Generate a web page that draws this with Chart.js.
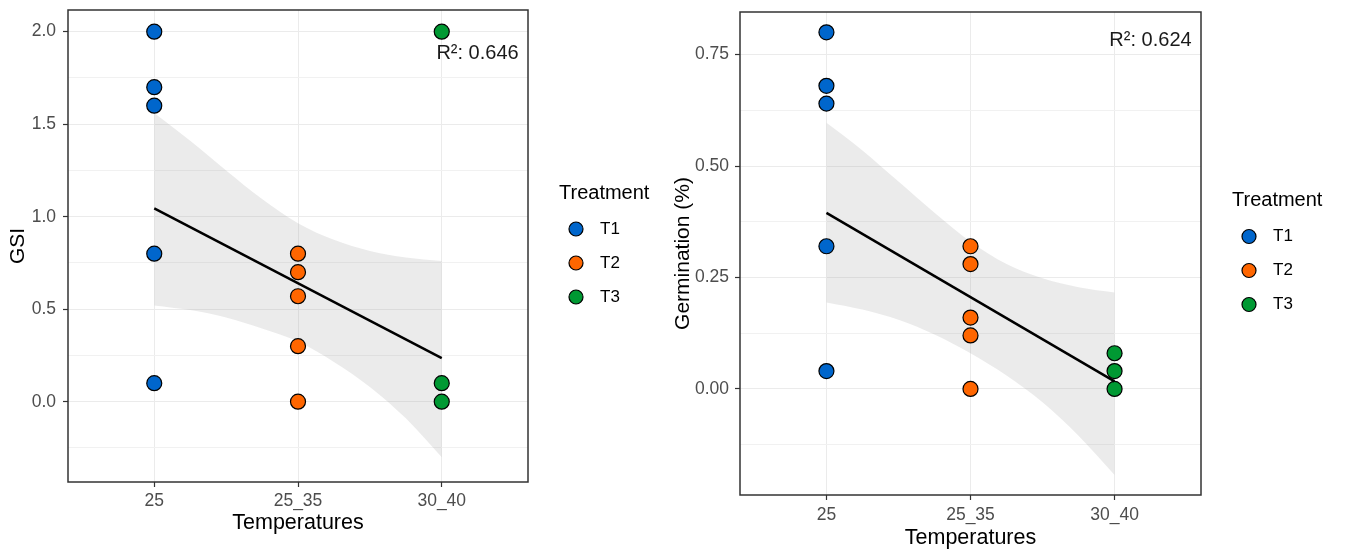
<!DOCTYPE html>
<html>
<head>
<meta charset="utf-8">
<script src="https://cdn.jsdelivr.net/npm/chart.js@4.4.1/dist/chart.umd.min.js"></script>
<style>
  html, body { margin: 0; padding: 0; background: #fff; }
  #wrap { position: relative; width: 1347px; height: 551px; }
  #gsi { position: absolute; left: 0; top: 0; }
  #germ { position: absolute; left: 670px; top: 0; }
</style>
</head>
<body>
<div id="wrap">
  <canvas id="gsi" width="670" height="551"></canvas>
  <canvas id="germ" width="677" height="551"></canvas>
</div>
<script>
const temps = ['25', '25_35', '30_40'];
const treatments = ['T1', 'T2', 'T3'];
const treatColours = ['#0066CC', '#FF6600', '#009933'];

// GSI per treatment (T1 -> 25, T2 -> 25_35, T3 -> 30_40)
const gsiT1 = [2.0, 1.7, 1.6, 0.8, 0.1];
const gsiT2 = [0.8, 0.7, 0.57, 0.3, 0.0];
const gsiT3 = [2.0, 0.1, 0.0];
const gsiFit = [1.045, 0.235];
const gsiUpper = [1.56, 1.41, 1.25, 1.095, 0.965, 0.875, 0.815, 0.78, 0.76];
const gsiLower = [0.52, 0.495, 0.455, 0.395, 0.325, 0.215, 0.08, -0.09, -0.30];
const gsiMajor = [0, 0.5, 1, 1.5, 2];
const gsiMajorLabels = ['0.0', '0.5', '1.0', '1.5', '2.0'];
const gsiMinor = [-0.25, 0.25, 0.75, 1.25, 1.75];

// Germination (%) per treatment
const germT1 = [0.80, 0.68, 0.64, 0.32, 0.04];
const germT2 = [0.32, 0.28, 0.16, 0.12, 0.00];
const germT3 = [0.08, 0.04, 0.00];
const germFit = [0.395, 0.017];
const germUpper = [0.597, 0.535, 0.465, 0.395, 0.33, 0.28, 0.248, 0.228, 0.216];
const germLower = [0.194, 0.178, 0.155, 0.122, 0.08, 0.03, -0.03, -0.105, -0.193];
const germMajor = [0, 0.25, 0.5, 0.75];
const germMajorLabels = ['0.00', '0.25', '0.50', '0.75'];
const germMinor = [-0.125, 0.125, 0.375, 0.625];

// x positions (temperature index) where fit and band were read
const fitX = [0, 2];
const bandX = [0, 0.25, 0.5, 0.75, 1, 1.25, 1.5, 1.75, 2];

const FONT = '"Liberation Sans", Arial, sans-serif';

// panel border, R² note and the Treatment legend
const decor = {
  id: 'decor',
  afterDraw(chart, args, o) {
    const { ctx, chartArea: a, scales } = chart;
    ctx.save();
    ctx.strokeStyle = '#333333';
    ctx.lineWidth = 1.5;
    ctx.strokeRect(a.left, a.top, a.right - a.left, a.bottom - a.top);

    ctx.font = `20px ${FONT}`;
    ctx.fillStyle = '#1A1A1A';
    ctx.textAlign = 'right';
    ctx.textBaseline = 'middle';
    ctx.fillText(o.note, scales.x.getPixelForValue(o.noteX), scales.y.getPixelForValue(o.noteY));

    const lx = a.right, ly = (a.top + a.bottom) / 2;
    ctx.textAlign = 'left';
    ctx.fillStyle = '#000';
    ctx.fillText('Treatment', lx + 31, ly - 53);
    ctx.font = `17px ${FONT}`;
    treatments.forEach((t, i) => {
      const y = ly - 17 + i * 34;
      ctx.beginPath();
      ctx.arc(lx + 48, y, 7, 0, Math.PI * 2);
      ctx.fillStyle = treatColours[i];
      ctx.fill();
      ctx.lineWidth = 1.2;
      ctx.strokeStyle = '#000';
      ctx.stroke();
      ctx.fillStyle = '#000';
      ctx.fillText(t, lx + 72, y);
    });
    ctx.restore();
  },
};

function panel(id, o) {
  const datasets = [
    {
      type: 'line',
      data: o.fit.map((y, i) => ({ x: fitX[i], y })),
      borderColor: '#000',
      borderWidth: 2.5,
      pointRadius: 0,
      order: 0,
    },
  ];
  o.series.forEach((vals, i) => {
    datasets.push({
      type: 'scatter',
      label: treatments[i],
      data: vals.map((y) => ({ x: i, y })),
      backgroundColor: treatColours[i],
      borderColor: '#000',
      borderWidth: 1.2,
      pointRadius: 7.5,
      order: 1,
    });
  });
  datasets.push({
    type: 'line',
    data: bandX.map((x, i) => ({ x, y: o.upper[i] })),
    borderColor: 'rgba(0,0,0,0)',
    borderWidth: 0,
    pointRadius: 0,
    cubicInterpolationMode: 'monotone',
    fill: '+1',
    backgroundColor: 'rgba(153,153,153,0.2)',
    order: 2,
  });
  datasets.push({
    type: 'line',
    data: bandX.map((x, i) => ({ x, y: o.lower[i] })),
    borderColor: 'rgba(0,0,0,0)',
    borderWidth: 0,
    pointRadius: 0,
    cubicInterpolationMode: 'monotone',
    fill: false,
    order: 2,
  });

  const isMajor = (v) => o.major.includes(v);

  return new Chart(document.getElementById(id), {
    type: 'scatter',
    data: { datasets },
    plugins: [decor],
    options: {
      responsive: false,
      animation: false,
      layout: { padding: { top: o.padTop, right: o.padRight, bottom: 0, left: 0 } },
      plugins: {
        legend: { display: false },
        tooltip: { enabled: false },
        decor: { note: o.note, noteX: 2.535, noteY: o.noteY },
      },
      scales: {
        x: {
          type: 'linear',
          min: -0.6,
          max: 2.6,
          afterBuildTicks: (s) => { s.ticks = temps.map((t, i) => ({ value: i })); },
          afterFit: (s) => { s.height = o.xAxisH; s.paddingLeft = 0; s.paddingRight = 0; },
          ticks: {
            callback: (v) => temps[v],
            font: { family: FONT, size: 17.5 },
            color: '#4D4D4D',
            padding: o.xTickPad,
            autoSkip: false,
            maxRotation: 0,
          },
          grid: { color: '#EBEBEB', lineWidth: 1, tickLength: 5, tickColor: '#333333', tickWidth: 1.2 },
          border: { display: false },
          title: {
            display: true,
            text: 'Temperatures',
            font: { family: FONT, size: 21.5 },
            color: '#000',
            padding: { top: 0, bottom: o.xTitlePad },
          },
        },
        y: {
          min: o.yMin,
          max: o.yMax,
          afterBuildTicks: (s) => {
            s.ticks = o.major.concat(o.minor).sort((a, b) => a - b).map((v) => ({ value: v }));
          },
          afterFit: (s) => { s.width = o.yAxisW; s.paddingTop = 0; s.paddingBottom = 0; },
          ticks: {
            callback: (v) => (isMajor(v) ? o.majorLabels[o.major.indexOf(v)] : ''),
            font: { family: FONT, size: 17.5 },
            color: '#4D4D4D',
            padding: o.yTickPad,
          },
          grid: {
            color: (c) => (c.tick && isMajor(c.tick.value) ? '#EBEBEB' : '#F1F1F1'),
            lineWidth: 1,
            tickLength: 5,
            tickColor: (c) => (c.tick && isMajor(c.tick.value) ? '#333333' : 'rgba(0,0,0,0)'),
            tickWidth: 1.2,
          },
          border: { display: false },
          title: {
            display: true,
            text: o.yTitle,
            font: { family: FONT, size: 21 },
            color: '#000',
            padding: { top: o.yTitlePad, bottom: 0 },
          },
        },
      },
    },
  });
}

panel('gsi', {
  series: [gsiT1, gsiT2, gsiT3],
  fit: gsiFit, upper: gsiUpper, lower: gsiLower,
  major: gsiMajor, majorLabels: gsiMajorLabels, minor: gsiMinor,
  yMin: -0.434, yMax: 2.117,
  yTitle: 'GSI',
  note: 'R²: 0.646', noteY: 1.881,
  padTop: 10, padRight: 142,
  xAxisH: 69, xTickPad: 4, xTitlePad: 15,
  yAxisW: 68, yTickPad: 7, yTitlePad: 6,
});

panel('germ', {
  series: [germT1, germT2, germT3],
  fit: germFit, upper: germUpper, lower: germLower,
  major: germMajor, majorLabels: germMajorLabels, minor: germMinor,
  yMin: -0.238, yMax: 0.8455,
  yTitle: 'Germination (%)',
  note: 'R²: 0.624', noteY: 0.782,
  padTop: 12, padRight: 146,
  xAxisH: 56, xTickPad: 4.5, xTitlePad: 0,
  yAxisW: 70, yTickPad: 6, yTitlePad: 1,
});
</script>
</body>
</html>
